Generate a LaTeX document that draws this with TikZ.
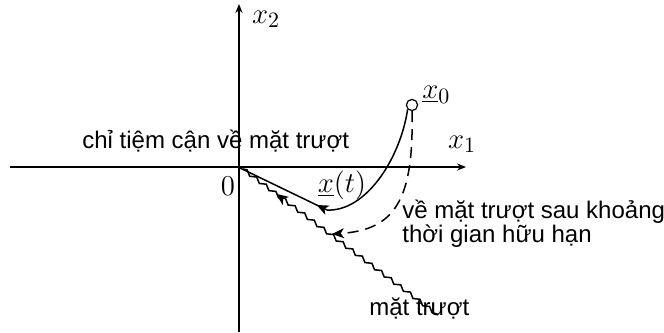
\documentclass[tikz,border=0pt]{standalone}
\usepackage{fontspec}
\setmainfont{Liberation Sans}
\usetikzlibrary{arrows.meta,decorations.pathmorphing,decorations.markings}
\begin{document}
\begin{tikzpicture}[x=0.5pt,y=-0.5pt,
  axis/.style={line width=1pt,-{Stealth[length=4.5pt,width=3.6pt]}},
  traj/.style={line width=0.75pt},
  mytip/.tip={Stealth[length=6pt,width=5pt,inset=1.6pt]},
  lbl/.style={inner sep=0pt,font=\fontsize{12}{12}\selectfont},
  mlbl/.style={inner sep=0pt,font=\fontsize{15}{18}\selectfont}]
\useasboundingbox (0,0) rectangle (664,332);
% axes
\coordinate (O) at (240,168);
\coordinate (ybot) at (239,332);
\coordinate (ytop) at (239,4);
\coordinate (xl) at (10,167);
\coordinate (xr) at (466,167);
\draw[axis] (ybot) -- (ytop);
\draw[axis] (xl) -- (xr);
\node[mlbl] (lx2) at (266,19) {$x_2$};
\node[mlbl] (lx1) at (462,144) {$x_1$};
\node[mlbl] (l0) at (228,186) {$0$};
% sliding surface
\coordinate (ss) at (243,169);
\coordinate (se) at (438,315);
\draw[line width=0.75pt,decorate,decoration={snake,amplitude=0.9pt,segment length=6pt}] (ss) -- (se);
\path[postaction={decorate},decoration={markings,mark=at position 0.17 with {\arrowreversed[line width=0.75pt]{mytip}}}] (ss) -- (se);
% initial point
\node[draw,circle,line width=0.6pt,minimum size=5.6pt,inner sep=0pt,fill=white] (x0) at (412,105) {};
\node[mlbl,anchor=west] (lx0) at (422,95) {$\underline{x}_0$};
% solid trajectory
\coordinate (bot) at (327,210);
\draw[traj] (x0.south west) .. controls (400,160) and (365,212) .. (bot);
\draw[traj,postaction={decorate},decoration={markings,mark=at position 0.12 with {\arrow[line width=0.75pt]{mytip}}}] (bot) -- (O);
\node[mlbl] (lxt) at (342,185) {$\underline{x}(t)$};
% dashed trajectory
\coordinate (hit) at (332,234);
\draw[traj,dash pattern=on 5.5pt off 3.5pt,-{mytip}] (x0.south) .. controls (414,200) and (395,230) .. (hit);
% texts
\node[lbl,anchor=base west] (t1) at (82,148) {chỉ tiệm cận về mặt trượt};
\node[lbl,anchor=north west,align=left] (t2) at (402,200) {về mặt trượt sau khoảng\\thời gian hữu hạn};
\node[lbl,anchor=base west] (t3) at (369,315) {mặt trượt};
\end{tikzpicture}
\end{document}
